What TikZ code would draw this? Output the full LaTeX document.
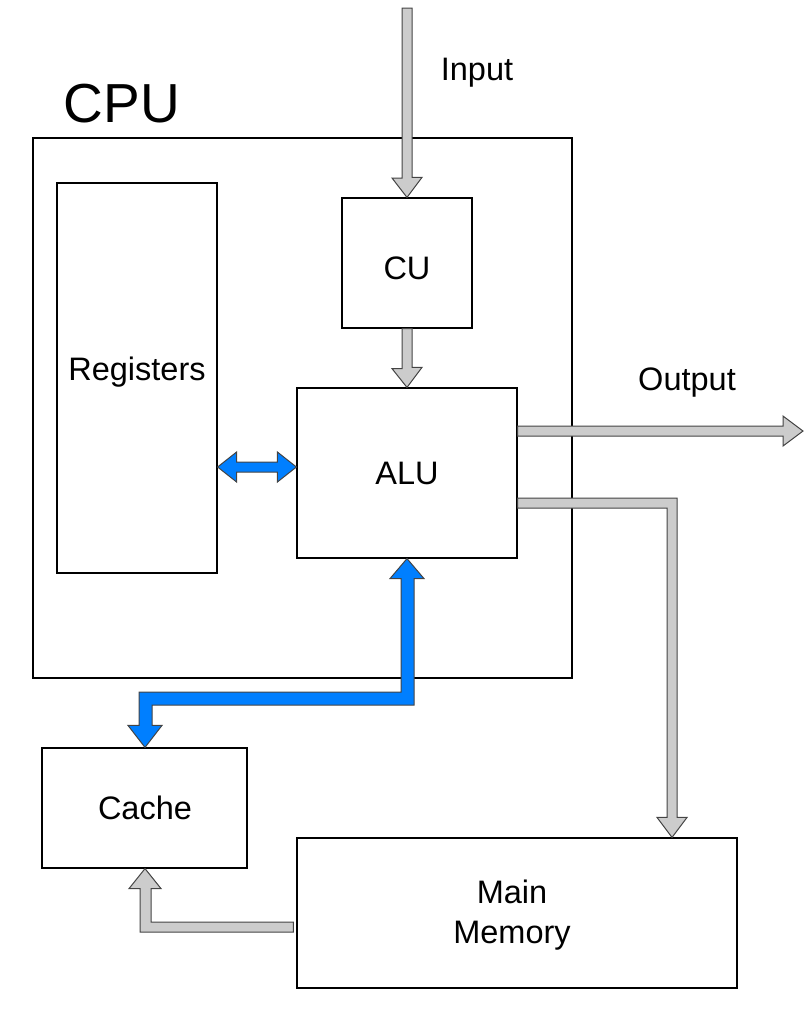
\documentclass[tikz,border=0pt]{standalone}
\usepackage{fontspec}
\setmainfont{Liberation Sans}
\usetikzlibrary{calc}
\definecolor{arrgray}{HTML}{CCCCCC}
\definecolor{arrblue}{HTML}{007FFF}
\definecolor{edgegray}{HTML}{444444}
\tikzset{
  box/.style={draw=black, line width=1.2pt, fill=none, inner sep=0pt},
  lbl/.style={font=\fontsize{32.5}{40}\selectfont, text height=23.3pt, text depth=0pt, inner sep=0pt, align=center},
  grayarrow/.style={fill=arrgray, draw=edgegray, line width=1pt, line join=miter},
  bluearrow/.style={fill=arrblue, draw=edgegray, line width=1pt, line join=miter}
}
\begin{document}
\begin{tikzpicture}[x=1pt,y=-1pt]
\useasboundingbox (0,0) rectangle (811,1021);
% boxes
\node[box, minimum width=539pt, minimum height=540pt] (cpu) at (302.5,408) {};
\node[box, minimum width=160pt, minimum height=390pt] (reg) at (137,378) {};
\node[box, minimum width=130pt, minimum height=130pt] (cu) at (407,263) {};
\node[box, minimum width=220pt, minimum height=170pt] (alu) at (407,473) {};
\node[box, minimum width=205pt, minimum height=120pt] (cache) at (144.5,808) {};
\node[box, minimum width=440pt, minimum height=150pt] (mem) at (517,913) {};
% labels
\node[inner sep=0pt, font=\fontsize{55}{60}\selectfont, text height=39.4pt, text depth=0pt] (cpulbl) at (122,103) {CPU};
\node[lbl] (reglbl) at (137,369) {Registers};
\node[lbl] (culbl) at (407,268) {CU};
\node[lbl] (alulbl) at (407,473) {ALU};
\node[lbl] (cachelbl) at (145,808) {Cache};
\node[lbl, text depth=0pt] (memlbl) at (512,891.5) {Main};
\node[lbl] (memlbl2) at (512,931.5) {Memory};
\node[lbl] (inlbl) at (477,69) {Input};
\node[lbl] (outlbl) at (687,379) {Output};
% input arrow
\coordinate (instart) at (407,8);
\draw[grayarrow] (cu.north) -- ++(15,-20) -- ++(-10,0) |- ($(instart)+(5,0)$) -- ($(instart)+(-5,0)$) -- ++(0,170) -- ++(-10,0) -- cycle;
% CU -> ALU
\draw[grayarrow] (alu.north) -- ++(15,-20) -- ++(-10,0) -- (cu.south -| 412,0) -- (cu.south -| 402,0) -- ++(0,40) -- ++(-10,0) -- cycle;
% Registers <-> ALU
\coordinate (rtip) at (reg.east |- 0,467);
\coordinate (atip) at (alu.west |- 0,467);
\draw[bluearrow] (rtip) -- ++(19,-15) -- ++(0,10) -- ($(atip)+(-19,-5)$) -- ++(0,-10) -- (atip) -- ++(-19,15) -- ++(0,-10) -- ($(rtip)+(19,5)$) -- ++(0,10) -- cycle;
% Output
\coordinate (outend) at (803,431);
\draw[grayarrow] (alu.east |- 0,426) -- ($(outend)+(-20,-5)$) -- ++(0,-10) -- (outend) -- ++(-20,15) -- ++(0,-10) -- (alu.east |- 0,436) -- cycle;
% ALU -> Main Memory
\coordinate (mtip) at (mem.north -| 672,0);
\draw[grayarrow] (alu.east |- 0,498) -- (677,498) -- ($(mtip)+(5,-20)$) -- ++(10,0) -- (mtip) -- ++(-15,-20) -- ++(10,0) -- (667,508) -- (alu.east |- 0,508) -- cycle;
% ALU <-> Cache (blue)
\coordinate (cachetip) at (cache.north -| 145,0);
\draw[bluearrow] (alu.south) -- ++(17,20) -- ++(-10,0) -- (414,705) -- (152,705) -- ($(cachetip)+(7,-22)$) -- ++(10,0) -- (cachetip) -- ++(-17,-22) -- ++(11,0) -- (139,692) -- (401,692) -- ($(alu.south)+(-6,20)$) -- ++(-11,0) -- cycle;
% Main Memory -> Cache
\coordinate (ctip) at (cache.south -| 145,0);
\draw[grayarrow] ($(mem.west |- 0,922)+(-3,0)$) -- ++(0,10) -- (140,932) -- ($(ctip)+(-5,20)$) -- ++(-11,0) -- (ctip) -- ++(16,20) -- ++(-10,0) -- (151,922) -- cycle;
\end{tikzpicture}
\end{document}
